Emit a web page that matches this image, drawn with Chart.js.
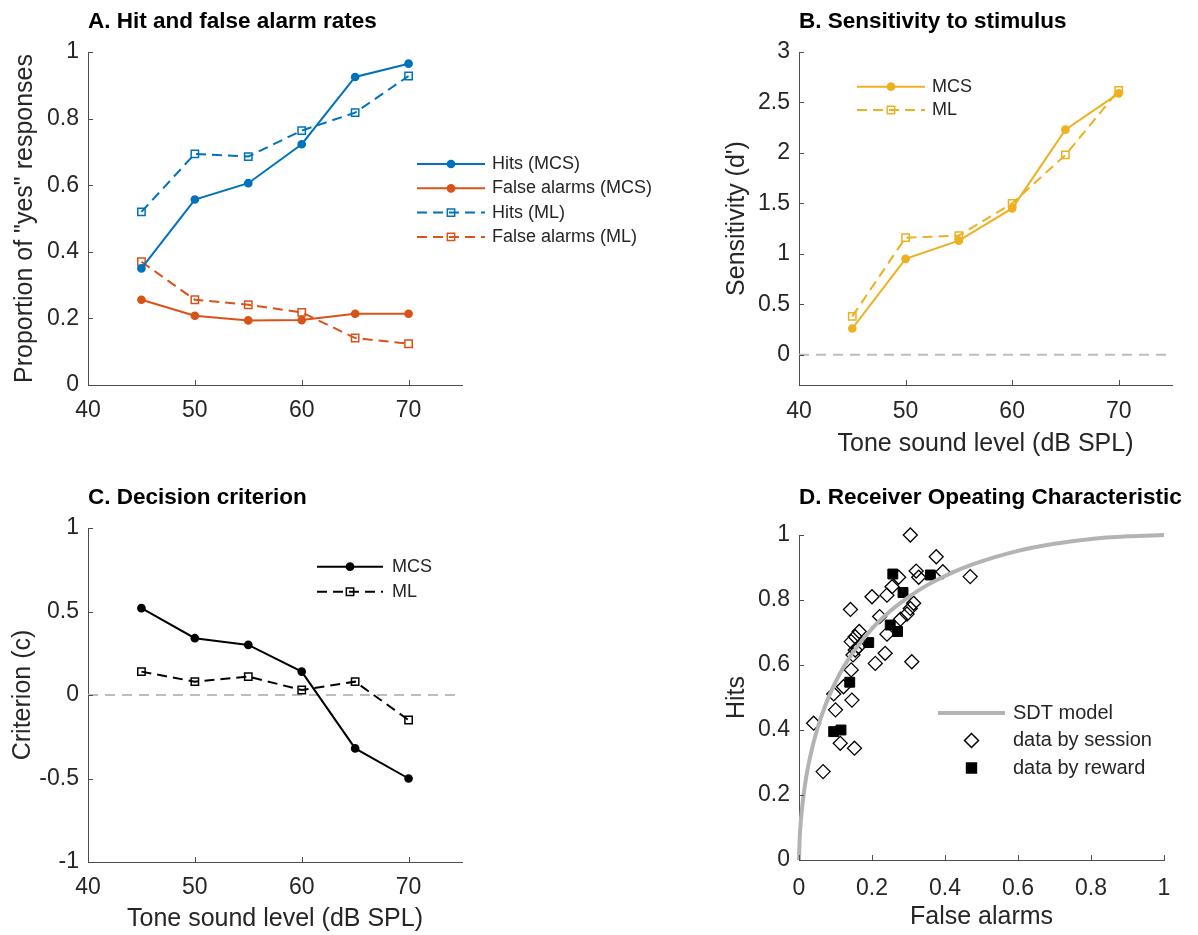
<!DOCTYPE html>
<html>
<head>
<meta charset="utf-8">
<script src="https://cdn.jsdelivr.net/npm/chart.js@4.4.1/dist/chart.umd.min.js"></script>
<style>
  body { margin: 0; background: #fff; }
  .panel { position: absolute; }
</style>
</head>
<body>
<div class="panel" style="left:0;top:0;width:700px;height:468px"><canvas id="chartA"></canvas></div>
<div class="panel" style="left:600px;top:0;width:598px;height:468px"><canvas id="chartB"></canvas></div>
<div class="panel" style="left:0;top:468px;width:600px;height:467px"><canvas id="chartC"></canvas></div>
<div class="panel" style="left:600px;top:468px;width:598px;height:467px"><canvas id="chartD"></canvas></div>
<script>
// tone levels (dB SPL)
const levels = [45, 50, 55, 60, 65, 70];

// A. hit and false alarm rates
const hitsMCS = [0.350, 0.557, 0.606, 0.723, 0.925, 0.965];
const faMCS = [0.256, 0.208, 0.194, 0.195, 0.214, 0.214];
const hitsML = [0.520, 0.694, 0.686, 0.764, 0.818, 0.928];
const faML = [0.370, 0.256, 0.241, 0.218, 0.141, 0.124];

// B. sensitivity d'
const dprimeMCS = [0.26, 0.95, 1.13, 1.45, 2.23, 2.59];
const dprimeML = [0.38, 1.16, 1.18, 1.50, 1.98, 2.62];

// C. criterion c
const critMCS = [0.52, 0.34, 0.30, 0.14, -0.32, -0.50];
const critML = [0.14, 0.08, 0.11, 0.03, 0.08, -0.15];

// zero reference line (B, C)
const refLevels = [40, 75];
const refZero = [0, 0];

// D. ROC
const sessionFA = [0.305, 0.376, 0.394, 0.469, 0.321, 0.328, 0.273, 0.255, 0.241, 0.200,
  0.141, 0.314, 0.305, 0.296, 0.278, 0.221, 0.241, 0.165, 0.154, 0.143,
  0.163, 0.154, 0.148, 0.236, 0.209, 0.309, 0.143, 0.122, 0.095, 0.145,
  0.100, 0.040, 0.113, 0.152, 0.066];
const sessionHits = [1.000, 0.933, 0.887, 0.872, 0.889, 0.870, 0.870, 0.841, 0.815, 0.810,
  0.771, 0.790, 0.774, 0.757, 0.741, 0.749, 0.695, 0.703, 0.687, 0.672,
  0.656, 0.646, 0.631, 0.636, 0.605, 0.610, 0.585, 0.533, 0.511, 0.492,
  0.462, 0.421, 0.359, 0.344, 0.272];
const rewardFA = [0.257, 0.285, 0.360, 0.250, 0.270, 0.191, 0.139, 0.095, 0.115];
const rewardHits = [0.880, 0.823, 0.877, 0.723, 0.703, 0.669, 0.547, 0.395, 0.400];
const sdtFA = [0, 0.002, 0.005, 0.01, 0.02, 0.03, 0.05, 0.075, 0.1, 0.125, 0.15, 0.2,
  0.25, 0.3, 0.35, 0.4, 0.45, 0.5, 0.6, 0.7, 0.8, 0.9, 1];
const sdtHits = [0, 0.07, 0.12, 0.177, 0.257, 0.315, 0.403, 0.484, 0.547, 0.599, 0.642, 0.712,
  0.766, 0.809, 0.845, 0.874, 0.899, 0.919, 0.951, 0.973, 0.988, 0.996, 1];

// tick labels
const levelTicks = [40, 50, 60, 70];
const propTicks = [0, 0.2, 0.4, 0.6, 0.8, 1];
const dprimeTicks = [0, 0.5, 1, 1.5, 2, 2.5, 3];
const critTicks = [-1, -0.5, 0, 0.5, 1];
const rocTicks = [0, 0.2, 0.4, 0.6, 0.8, 1];

const FONT = 'Arial, "Liberation Sans", sans-serif';
const AXIS = '#4d4d4d';
const TEXT = '#262626';
const BLUE = '#0072BD', ORANGE = '#D95319', YELLOW = '#EDB120';
const DASH = [10, 6];

Chart.defaults.font.family = FONT;
Chart.defaults.color = TEXT;

function pts(xs, ys) {
  return xs.map((x, i) => ({ x: x, y: ys[i] }));
}

function series(label, xs, ys, color, dashed, marker) {
  const open = marker !== 'circle';
  return {
    label: label,
    data: pts(xs, ys),
    showLine: true,
    borderColor: color,
    borderWidth: 2,
    borderDash: dashed ? DASH : [],
    pointStyle: marker,
    pointRadius: marker === 'circle' ? 3.6 : 5.2,
    pointBorderWidth: 1.5,
    pointBorderColor: color,
    pointBackgroundColor: open ? 'rgba(0,0,0,0)' : color,
    clip: false
  };
}

function zeroLine() {
  return {
    label: 'zero',
    data: pts(refLevels, refZero),
    showLine: true,
    borderColor: '#bdbdbd',
    borderWidth: 2,
    borderDash: [10, 7],
    pointRadius: 0
  };
}

// size = axis box width/height, pad = tick label gap, titlePad = gap to the edge of the box
function axis(min, max, ticks, size, pad, title, titlePad, horizontal) {
  return {
    type: 'linear',
    position: horizontal ? 'bottom' : 'left',
    min: min,
    max: max,
    afterBuildTicks: s => { s.ticks = ticks.map(v => ({ value: v })); },
    afterFit: s => { if (horizontal) s.height = size; else s.width = size; },
    grid: { display: false, drawTicks: false },
    border: { display: true, color: AXIS, width: 1 },
    ticks: {
      padding: pad,
      autoSkip: false,
      maxRotation: 0,
      font: { size: 23 },
      color: TEXT,
      callback: v => String(v)
    },
    title: {
      display: !!title,
      text: title || '',
      font: { size: 25 },
      color: TEXT,
      padding: horizontal ? { top: 0, bottom: titlePad } : { top: titlePad, bottom: 0 }
    }
  };
}

function drawMarker(ctx, style, x, y, r, color, filled) {
  ctx.beginPath();
  if (style === 'circle') {
    ctx.arc(x, y, r, 0, Math.PI * 2);
  } else if (style === 'rect') {
    const s = r * Math.SQRT1_2;
    ctx.rect(x - s, y - s, 2 * s, 2 * s);
  } else if (style === 'rectRot') {
    ctx.moveTo(x, y - r); ctx.lineTo(x + r, y); ctx.lineTo(x, y + r); ctx.lineTo(x - r, y); ctx.closePath();
  }
  if (filled) { ctx.fillStyle = color; ctx.fill(); }
  ctx.strokeStyle = color; ctx.lineWidth = 1.5; ctx.setLineDash([]);
  ctx.stroke();
}

// inward ticks, left-aligned panel title and a hand-placed legend
const panelDecor = {
  id: 'panelDecor',
  afterDraw(chart, args, opts) {
    const ctx = chart.ctx;
    const area = chart.chartArea;
    const xs = chart.scales.x, ys = chart.scales.y;
    ctx.save();
    ctx.strokeStyle = AXIS;
    ctx.lineWidth = 1;
    ctx.setLineDash([]);
    ctx.beginPath();
    xs.ticks.forEach(t => {
      const px = Math.round(xs.getPixelForValue(t.value)) + 0.5;
      ctx.moveTo(px, area.bottom); ctx.lineTo(px, area.bottom - 5);
    });
    ys.ticks.forEach(t => {
      const py = Math.round(ys.getPixelForValue(t.value)) + 0.5;
      ctx.moveTo(area.left, py); ctx.lineTo(area.left + 5, py);
    });
    ctx.stroke();

    ctx.fillStyle = '#000';
    ctx.font = 'bold 22.5px ' + FONT;
    ctx.textAlign = 'left';
    ctx.textBaseline = 'alphabetic';
    ctx.fillText(opts.title, area.left, opts.titleY);

    const lg = opts.legend;
    ctx.font = lg.size + 'px ' + FONT;
    ctx.textBaseline = 'middle';
    lg.items.forEach((idx, k) => {
      const ds = chart.data.datasets[idx];
      const y = lg.y + k * lg.dy;
      if (ds.showLine) {
        ctx.strokeStyle = ds.borderColor;
        ctx.lineWidth = ds.borderWidth;
        ctx.setLineDash(ds.borderDash || []);
        ctx.beginPath();
        ctx.moveTo(lg.x, y); ctx.lineTo(lg.x + lg.len, y);
        ctx.stroke();
      }
      if (ds.pointRadius > 0) {
        const filled = ds.pointBackgroundColor !== 'rgba(0,0,0,0)';
        drawMarker(ctx, ds.pointStyle, lg.x + lg.len / 2, y, ds.pointRadius, ds.pointBorderColor, filled);
      }
      ctx.fillStyle = TEXT;
      ctx.fillText(ds.label, lg.textX, y);
    });
    ctx.restore();
  }
};

function makeChart(id, datasets, scales, padding, decor) {
  return new Chart(document.getElementById(id), {
    type: 'scatter',
    data: { datasets: datasets },
    options: {
      responsive: true,
      maintainAspectRatio: false,
      animation: false,
      layout: { padding: padding },
      scales: scales,
      plugins: {
        legend: { display: false },
        tooltip: { enabled: false },
        panelDecor: decor
      }
    },
    plugins: [panelDecor]
  });
}

makeChart('chartA', [
  series('Hits (MCS)', levels, hitsMCS, BLUE, false, 'circle'),
  series('False alarms (MCS)', levels, faMCS, ORANGE, false, 'circle'),
  series('Hits (ML)', levels, hitsML, BLUE, true, 'rect'),
  series('False alarms (ML)', levels, faML, ORANGE, true, 'rect')
], {
  x: axis(40, 75, levelTicks, 83, 12, '', 0, true),
  y: axis(0, 1, propTicks, 88, 9, 'Proportion of "yes" responses', 10, false)
}, { top: 52, right: 238, left: 0, bottom: 0 }, {
  title: 'A. Hit and false alarm rates', titleY: 28,
  legend: { x: 417, y: 164, dy: 24.3, len: 68, textX: 492, size: 18, items: [0, 1, 2, 3] }
});

makeChart('chartB', [
  series('MCS', levels, dprimeMCS, YELLOW, false, 'circle'),
  series('ML', levels, dprimeML, YELLOW, true, 'rect'),
  zeroLine()
], {
  x: axis(40, 75, levelTicks, 83, 13, 'Tone sound level (dB SPL)', 9, true),
  y: axis(-0.3, 3, dprimeTicks, 199, 9, "Sensitivity (d')", 122, false)
}, { top: 52, right: 26, left: 0, bottom: 0 }, {
  title: 'B. Sensitivity to stimulus', titleY: 28,
  legend: { x: 257, y: 86.7, dy: 23.3, len: 68, textX: 332, size: 18, items: [0, 1] }
});

makeChart('chartC', [
  series('MCS', levels, critMCS, '#000000', false, 'circle'),
  series('ML', levels, critML, '#000000', true, 'rect'),
  zeroLine()
], {
  x: axis(40, 75, levelTicks, 73, 12, 'Tone sound level (dB SPL)', 1, true),
  y: axis(-1, 1, critTicks, 88, 9, 'Criterion (c)', 8.5, false)
}, { top: 60, right: 138, left: 0, bottom: 0 }, {
  title: 'C. Decision criterion', titleY: 36,
  legend: { x: 317, y: 98.7, dy: 25, len: 66, textX: 392, size: 18, items: [0, 1] }
});

makeChart('chartD', [
  {
    label: 'SDT model',
    data: pts(sdtFA, sdtHits),
    showLine: true,
    borderColor: '#b3b3b3',
    borderWidth: 4,
    cubicInterpolationMode: 'monotone',
    pointRadius: 0,
    clip: false
  },
  {
    label: 'data by session',
    data: pts(sessionFA, sessionHits),
    showLine: false,
    pointStyle: 'rectRot',
    pointRadius: 7,
    pointBorderWidth: 1.3,
    pointBorderColor: '#000',
    pointBackgroundColor: 'rgba(0,0,0,0)',
    clip: false
  },
  {
    label: 'data by reward',
    data: pts(rewardFA, rewardHits),
    showLine: false,
    pointStyle: 'rect',
    pointRadius: 7,
    pointBorderWidth: 1,
    pointBorderColor: '#000',
    pointBackgroundColor: '#000',
    clip: false
  }
], {
  x: axis(0, 1, rocTicks, 75, 15, 'False alarms', 3, true),
  y: axis(0, 1, rocTicks, 199, 9, 'Hits', 122, false)
}, { top: 67, right: 34, left: 0, bottom: 0 }, {
  title: 'D. Receiver Opeating Characteristic', titleY: 36,
  legend: { x: 338, y: 245, dy: 27.5, len: 67, textX: 413, size: 20, items: [0, 1, 2] }
});
</script>
</body>
</html>
